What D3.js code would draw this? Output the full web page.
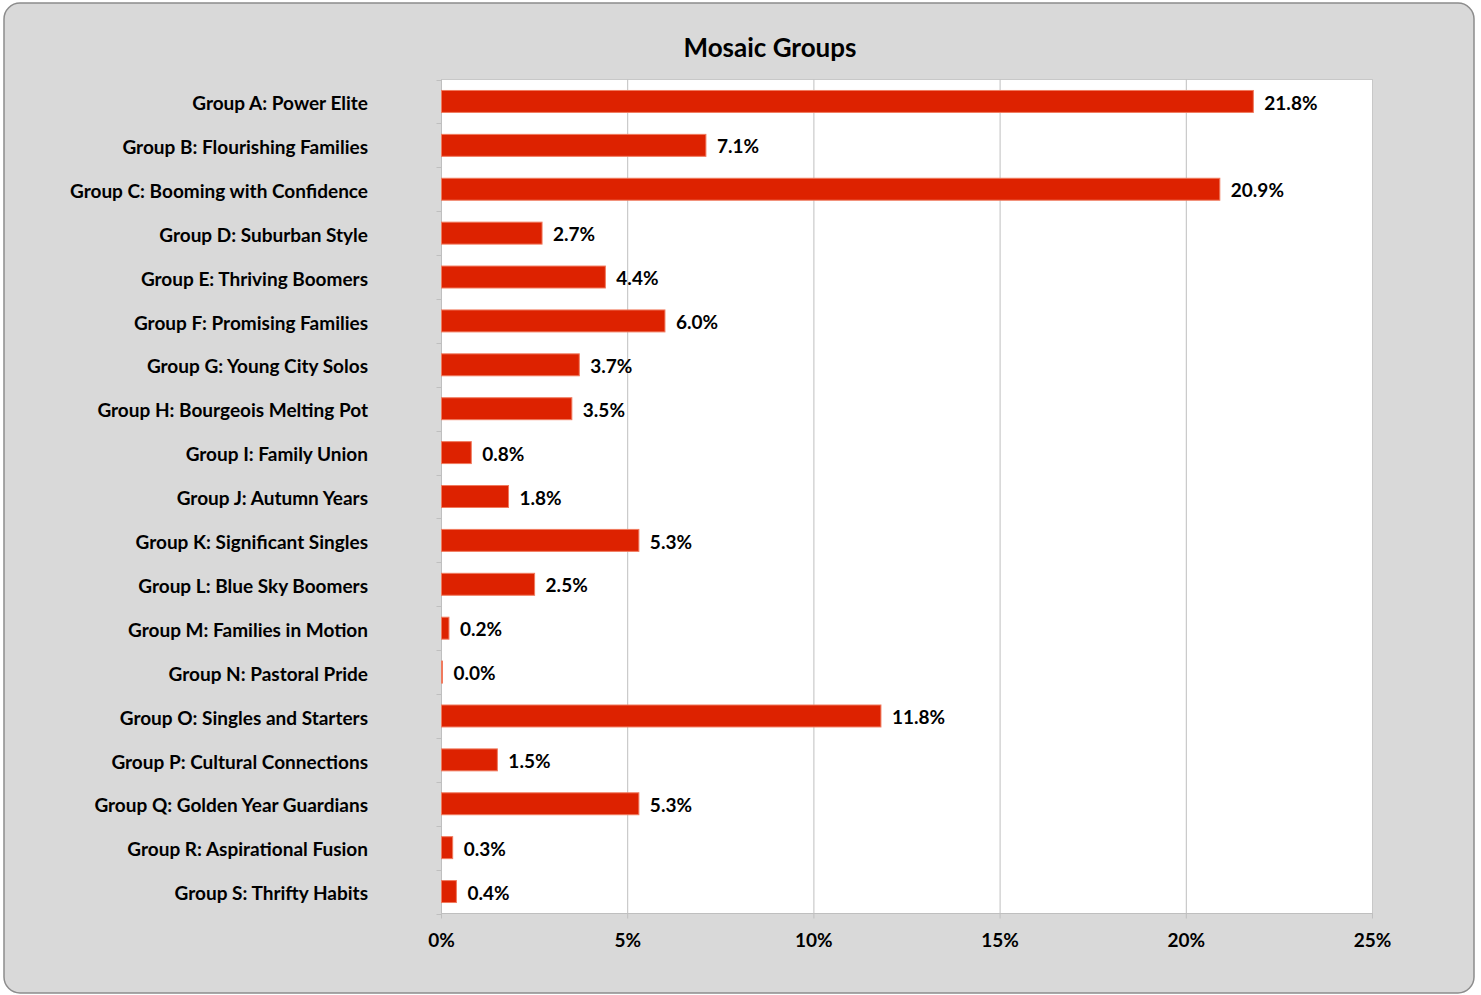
<!DOCTYPE html>
<html><head><meta charset="utf-8">
<script src="https://cdn.jsdelivr.net/npm/d3@7"></script>
<style>
html,body{margin:0;padding:0;background:#fff;}
text{font-family:Lato,"Open Sans",sans-serif;font-weight:700;fill:#000;}
</style></head>
<body>
<svg id="chart" width="1481" height="995"></svg>
<script>
const categories = [
  "Group A: Power Elite","Group B: Flourishing Families","Group C: Booming with Confidence",
  "Group D: Suburban Style","Group E: Thriving Boomers","Group F: Promising Families",
  "Group G: Young City Solos","Group H: Bourgeois Melting Pot","Group I: Family Union",
  "Group J: Autumn Years","Group K: Significant Singles","Group L: Blue Sky Boomers",
  "Group M: Families in Motion","Group N: Pastoral Pride","Group O: Singles and Starters",
  "Group P: Cultural Connections","Group Q: Golden Year Guardians","Group R: Aspirational Fusion",
  "Group S: Thrifty Habits"
];
const values = [21.8,7.1,20.9,2.7,4.4,6.0,3.7,3.5,0.8,1.8,5.3,2.5,0.2,0.0,11.8,1.5,5.3,0.3,0.4];
const xTicks = [0,5,10,15,20,25];
const title = "Mosaic Groups";

const svg = d3.select("#chart");
svg.append("rect").attr("x",4).attr("y",3).attr("width",1470).attr("height",990)
  .attr("rx",16).attr("ry",16).attr("fill","#d9d9d9").attr("stroke","#8c8c8c").attr("stroke-width",1.5);

const L=441.5, R=1372.5, T=79.5, B=913.5;
const x = d3.scaleLinear().domain([0,25]).range([L,R]);
const y = d3.scaleBand().domain(categories).range([T,B]).paddingInner(0.5).paddingOuter(0.25);

svg.append("rect").attr("x",L).attr("y",T).attr("width",R-L).attr("height",B-T)
  .attr("fill","#fff").attr("stroke","#c8c8c8");

svg.append("g").selectAll("line").data(xTicks.slice(1,-1)).join("line")
  .attr("x1",d=>x(d)).attr("x2",d=>x(d)).attr("y1",T).attr("y2",B)
  .attr("stroke","#bfbfbf").attr("stroke-width",1);

// left axis with ticks at category boundaries
const step = (B-T)/categories.length;
const bounds = d3.range(categories.length+1).map(i=>T+i*step);
svg.append("line").attr("x1",L).attr("x2",L).attr("y1",T).attr("y2",B).attr("stroke","#bfbfbf");
svg.append("g").selectAll("line").data(bounds).join("line")
  .attr("x1",L-5).attr("x2",L).attr("y1",d=>Math.round(d)+0.5).attr("y2",d=>Math.round(d)+0.5)
  .attr("stroke","#bfbfbf");
svg.append("g").selectAll("text").data(categories).join("text")
  .attr("x",368).attr("y",d=>y(d)+y.bandwidth()/2+2).attr("dy","0.35em")
  .attr("text-anchor","end").attr("font-size",19).text(d=>d);

// bottom axis
svg.append("line").attr("x1",L).attr("x2",R).attr("y1",B).attr("y2",B).attr("stroke","#bfbfbf");
svg.append("g").selectAll("line").data(xTicks).join("line")
  .attr("x1",d=>x(d)).attr("x2",d=>x(d)).attr("y1",B).attr("y2",B+5).attr("stroke","#bfbfbf");
svg.append("g").selectAll("text").data(xTicks).join("text")
  .attr("x",d=>x(d)).attr("y",940).attr("dy","0.35em").attr("text-anchor","middle")
  .attr("font-size",19).text(d=>d+"%");

// bars
svg.append("g").selectAll("rect").data(values).join("rect")
  .attr("x",L).attr("y",(d,i)=>y(categories[i]))
  .attr("width",d=>Math.max(1,x(d)-L)).attr("height",y.bandwidth())
  .attr("fill","#dd2200").attr("stroke","#f07a5e").attr("stroke-width",1);

svg.append("g").selectAll("text").data(values).join("text")
  .attr("x",d=>Math.max(x(d),L+1)+11).attr("y",(d,i)=>y(categories[i])+y.bandwidth()/2+1.5).attr("dy","0.35em")
  .attr("font-size",19).text(d=>d.toFixed(1)+"%");

svg.append("text").attr("x",770).attr("y",48).attr("dy","0.35em").attr("text-anchor","middle")
  .attr("font-size",26).text(title);
</script>
</body></html>
